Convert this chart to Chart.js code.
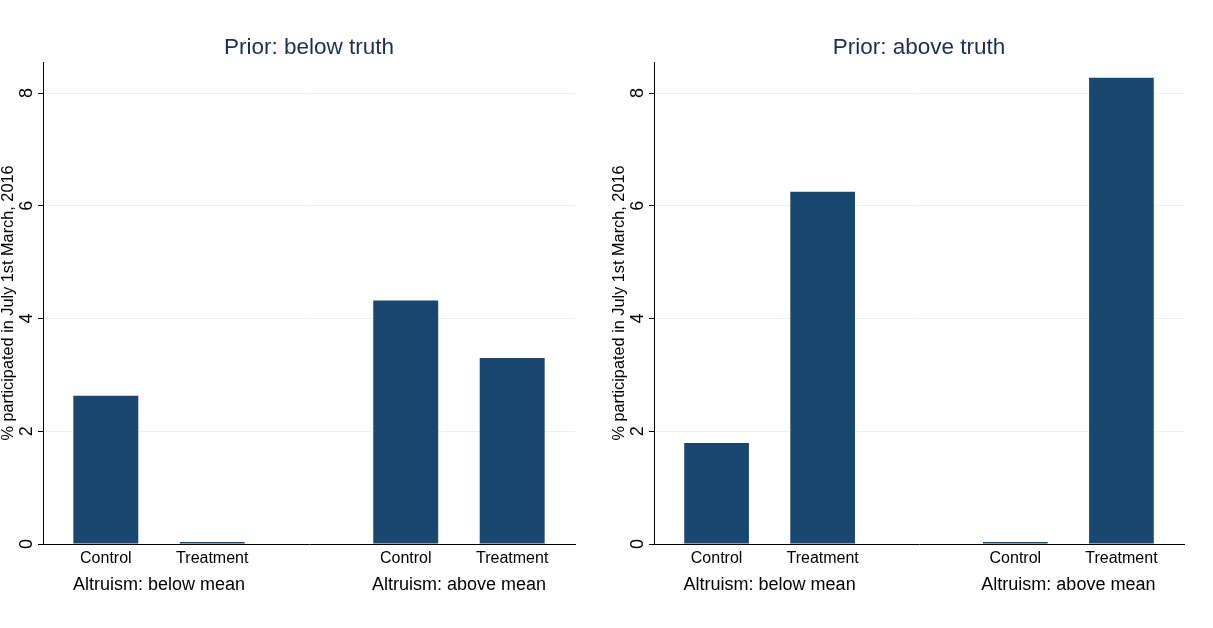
<!DOCTYPE html>
<html>
<head>
<meta charset="utf-8">
<script src="https://cdn.jsdelivr.net/npm/chart.js@4.4.1/dist/chart.umd.min.js"></script>
<style>
  html, body { margin: 0; padding: 0; background: #fff; }
  #wrap { display: flex; width: 1213px; height: 628px; }
  .panel { position: relative; height: 628px; }
</style>
</head>
<body>
<div id="wrap">
  <div class="panel" style="width:611px"><canvas id="leftChart"></canvas></div>
  <div class="panel" style="width:602px"><canvas id="rightChart"></canvas></div>
</div>
<script>
// Data
const categories = ['Control', 'Treatment', 'Control', 'Treatment'];
const groups = ['Altruism: below mean', 'Altruism: above mean'];
const panelTitles = ['Prior: below truth', 'Prior: above truth'];
const belowTruthValues = [2.63, 0, 4.32, 3.30];
const aboveTruthValues = [1.79, 6.25, 0, 8.27];
const yTicks = [0, 2, 4, 6, 8];
const yTitle = '% participated in July 1st March, 2016';

const BAR_COLOR = '#1a476f';
const GRID_COLOR = '#eaf2f3';
const FONT = 'Liberation Sans, Arial, Helvetica, sans-serif';
const GROUP_GAP = 0.817; // extra space between the two over() groups

// x position of each bar: index plus the gap between groups
const barPos = i => i + Math.floor(i / 2) * GROUP_GAP;

// group labels under the category labels, and vertical y tick labels (Stata style)
const extraLabels = {
    id: 'extraLabels',
    afterDraw(chart) {
        const ctx = chart.ctx;
        const x = chart.scales.x;
        const y = chart.scales.y;
        ctx.save();
        ctx.font = '18px ' + FONT;
        ctx.fillStyle = '#000';
        ctx.textAlign = 'center';
        ctx.textBaseline = 'middle';
        groups.forEach((g, gi) => {
            const mid = (barPos(gi * 2) + barPos(gi * 2 + 1)) / 2;
            ctx.fillText(g, x.getPixelForValue(mid), chart.chartArea.bottom + 41);
        });
        y.ticks.forEach(t => {
            ctx.save();
            ctx.translate(y.right - 16, y.getPixelForValue(t.value));
            ctx.rotate(-Math.PI / 2);
            ctx.fillText(String(t.value), 0, 0);
            ctx.restore();
        });
        ctx.restore();
    }
};

function makeChart(canvasId, title, values, rightPad) {
    const ctx = document.getElementById(canvasId).getContext('2d');
    return new Chart(ctx, {
        type: 'bar',
        data: {
            datasets: [{
                data: values.map((v, i) => ({ x: barPos(i), y: v })),
                backgroundColor: BAR_COLOR,
                borderWidth: 0,
                minBarLength: 2,
                barPercentage: 0.61,
                categoryPercentage: 1
            }]
        },
        options: {
            responsive: true,
            maintainAspectRatio: false,
            animation: false,
            layout: { padding: { left: 0, right: rightPad, top: 0, bottom: 0 } },
            plugins: {
                legend: { display: false },
                tooltip: { enabled: false },
                title: {
                    display: true,
                    fullSize: false,
                    text: title,
                    color: '#1e2d55',
                    font: { family: FONT, size: 22.5, weight: 'normal' },
                    padding: { top: 34, bottom: 1 }
                }
            },
            scales: {
                x: {
                    type: 'linear',
                    offset: false,
                    min: -0.59,
                    max: barPos(3) + 0.59,
                    afterBuildTicks: scale => {
                        scale.ticks = categories.map((c, i) => ({ value: barPos(i) }));
                    },
                    afterFit: scale => { scale.height = 84; },
                    grid: { display: false, drawTicks: false },
                    border: { display: true, color: '#000', width: 1 },
                    ticks: {
                        padding: 5,
                        color: '#000',
                        maxRotation: 0,
                        autoSkip: false,
                        font: { family: FONT, size: 16 },
                        callback: (v, i) => categories[i]
                    }
                },
                y: {
                    min: 0,
                    max: 8.55,
                    afterBuildTicks: scale => {
                        scale.ticks = yTicks.map(v => ({ value: v }));
                    },
                    afterFit: scale => { scale.width = 43; },
                    grid: {
                        color: c => (c.tick && c.tick.value === 0 ? 'rgba(0,0,0,0)' : GRID_COLOR),
                        tickColor: '#000',
                        tickLength: 5,
                        lineWidth: 1
                    },
                    border: { display: true, color: '#000', width: 1 },
                    ticks: { display: false },
                    title: {
                        display: true,
                        text: yTitle,
                        color: '#000',
                        font: { family: FONT, size: 16.3, lineHeight: 1 },
                        padding: 0
                    }
                }
            }
        },
        plugins: [extraLabels]
    });
}

makeChart('leftChart', panelTitles[0], belowTruthValues, 36);
makeChart('rightChart', panelTitles[1], aboveTruthValues, 29);
</script>
</body>
</html>
